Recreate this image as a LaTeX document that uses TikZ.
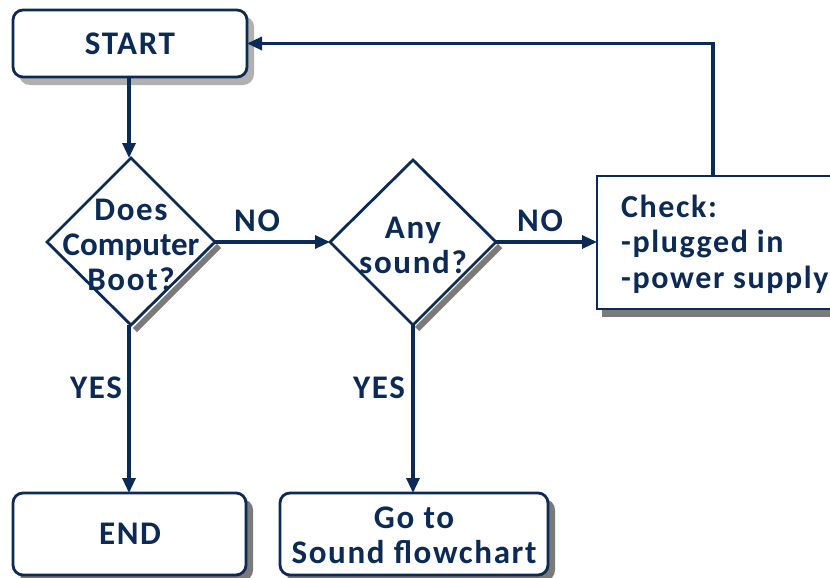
\documentclass[tikz,border=0pt]{standalone}
\usepackage{fontspec}
\setmainfont{Carlito}[LetterSpace=5]
\usetikzlibrary{shapes.geometric,arrows.meta}
\definecolor{navy}{HTML}{0B2A55}
\definecolor{shadowgray}{HTML}{7A7A7A}
\definecolor{lightshadow}{HTML}{B0B0B0}
\begin{document}
\begin{tikzpicture}[x=1pt,y=-1pt,
  font=\fontsize{33}{35}\selectfont\bfseries,
  flow/.style={draw=navy,line width=3.2pt,-{Triangle[length=15pt,width=13pt]}},
  outline/.style={draw=navy,line width=2.8pt,fill=white},
  lbl/.style={text=navy,inner sep=0pt},
  dropshadow/.style={fill=shadowgray,draw=shadowgray,line width=2pt},
  softshadow/.style={fill=lightshadow,draw=lightshadow,line width=2pt}]
\useasboundingbox (0,0) rectangle (830,578);
% terminal boxes with shadows
\path[softshadow,rounded corners=10pt] (20,17) rectangle (253,84);
\draw[outline,rounded corners=10pt] (13,10) rectangle (247,77);
\node[lbl] (start) at (130,43.5) {START};
\coordinate (startR) at (247,43.5);
\coordinate (startB) at (129,77);

\path[dropshadow,rounded corners=10pt] (19,500) rectangle (252,580);
\draw[outline,rounded corners=10pt] (13,493) rectangle (246,575);
\node[lbl] (end) at (130,534) {END};
\coordinate (endT) at (129,493);

\path[dropshadow,rounded corners=10pt] (286,500) rectangle (554,580);
\draw[outline,rounded corners=10pt] (280,493) rectangle (548,575);
\node[lbl,align=center] (sound) at (414,535) {Go to\\Sound flowchart};
\coordinate (soundT) at (413,493);

% decision diamonds, shadow on the lower right edge
\draw[shadowgray,line width=6pt] (219,246) -- (135,330);
\draw[outline,line join=miter] (131,158) -- (215,242) -- (131,325) -- (47,242) -- cycle;
\node[lbl,align=center] (boot) at (131,245) {Does\\{\addfontfeatures{LetterSpace=0}Computer}\\Boot?};
\coordinate (bootT) at (129,158);
\coordinate (bootR) at (215,242);
\coordinate (bootB) at (129,325);

\draw[shadowgray,line width=6pt] (500,246) -- (417,329);
\draw[outline,line join=miter] (413,160) -- (496,242) -- (413,325) -- (330,242) -- cycle;
\node[lbl,align=center] (anysound) at (413,245) {Any\\sound?};
\coordinate (anyL) at (330,242);
\coordinate (anyR) at (496,242);
\coordinate (anyB) at (413,325);

% check box
\path[dropshadow] (603,184) rectangle (840,316);
\draw[outline] (597,176) rectangle (840,309);
\node[lbl,align=left,anchor=west,font=\fontsize{32}{35.5}\selectfont\bfseries] (check) at (621,244) {Check:\\-plugged in\\-power supply};
\coordinate (checkL) at (597,242);
\coordinate (checkT) at (713,176);

% connectors
\draw[flow] (startB) -- (bootT);
\draw[flow] (bootR) -- (anyL);
\draw[flow] (anyR) -- (checkL);
\draw[flow] (checkT) -- (713,43.5) -- (startR);
\draw[flow] (bootB) -- (endT);
\draw[flow] (anyB) -- (soundT);

% branch labels
\node[lbl] (no1) at (257,221) {NO};
\node[lbl] (no2) at (540,221) {NO};
\node[lbl] (yes1) at (96,388) {YES};
\node[lbl] (yes2) at (379,388) {YES};
\end{tikzpicture}
\end{document}
